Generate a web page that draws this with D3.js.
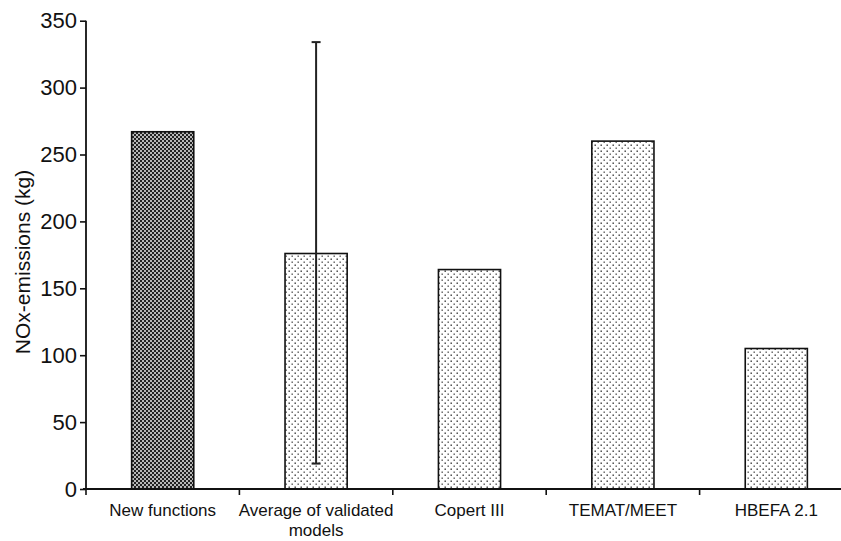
<!DOCTYPE html>
<html>
<head>
<meta charset="utf-8">
<script src="https://cdn.jsdelivr.net/npm/d3@7"></script>
<style>
  html, body { margin: 0; padding: 0; background: #fff; }
  svg { display: block; font-family: "Liberation Sans", Arial, Helvetica, sans-serif; }
</style>
</head>
<body>
<svg id="chart" width="841" height="541"></svg>
<script>
// ---- data ----
const categories = ["New functions", "Average of validated models", "Copert III", "TEMAT/MEET", "HBEFA 2.1"];
const labelLines = [["New functions"], ["Average of validated", "models"], ["Copert III"], ["TEMAT/MEET"], ["HBEFA 2.1"]];
const values = [267, 176, 164, 260, 105];
const patterns = ["check", "dots", "dots", "dots", "dots"];
const errLow = [null, 19, null, null, null];
const errHigh = [null, 334, null, null, null];
const yTicks = [0, 50, 100, 150, 200, 250, 300, 350];
const yTitle = "NOx-emissions (kg)";

// ---- layout ----
const svg = d3.select("#chart");
const x0 = 86, yBase = 489, yTop = 20.7;
const x = d3.scaleBand().domain(categories).range([x0, x0 + 153.4 * categories.length]).paddingInner(0).paddingOuter(0);
const y = d3.scaleLinear().domain([0, 350]).range([yBase, yTop]);
const barW = x.step() * 0.405;

// patterns
const defs = svg.append("defs");
const pc = defs.append("pattern").attr("id", "check").attr("patternUnits", "userSpaceOnUse")
  .attr("width", 4).attr("height", 4);
pc.append("rect").attr("width", 4).attr("height", 4).attr("fill", "#b8b8b8");
pc.append("rect").attr("x", 0).attr("y", 0).attr("width", 2).attr("height", 2).attr("fill", "#222");
pc.append("rect").attr("x", 2).attr("y", 2).attr("width", 2).attr("height", 2).attr("fill", "#222");

const pd = defs.append("pattern").attr("id", "dots").attr("patternUnits", "userSpaceOnUse")
  .attr("width", 6).attr("height", 6);
pd.append("rect").attr("width", 6).attr("height", 6).attr("fill", "#fff");
pd.append("rect").attr("x", 0.5).attr("y", 0.5).attr("width", 1.4).attr("height", 1.4).attr("fill", "#333");
pd.append("rect").attr("x", 3.5).attr("y", 3.5).attr("width", 1.4).attr("height", 1.4).attr("fill", "#555");

// bars
svg.append("g").selectAll("rect").data(categories).join("rect")
  .attr("x", (d) => x(d) + (x.step() - barW) / 2)
  .attr("y", (d, i) => y(values[i]))
  .attr("width", barW)
  .attr("height", (d, i) => y(0) - y(values[i]))
  .attr("fill", (d, i) => `url(#${patterns[i]})`)
  .attr("stroke", "#111")
  .attr("stroke-width", 1.6);

// error bars
categories.forEach((c, i) => {
  if (errLow[i] == null) return;
  const cx = x(c) + x.step() / 2;
  const g = svg.append("g").attr("stroke", "#222").attr("stroke-width", 2);
  g.append("line").attr("x1", cx).attr("x2", cx).attr("y1", y(errHigh[i])).attr("y2", y(errLow[i]));
  g.append("line").attr("x1", cx - 4.5).attr("x2", cx + 4.5).attr("y1", y(errHigh[i])).attr("y2", y(errHigh[i]));
  g.append("line").attr("x1", cx - 4.5).attr("x2", cx + 4.5).attr("y1", y(errLow[i])).attr("y2", y(errLow[i]));
});

// y axis
const yAxis = svg.append("g").attr("transform", `translate(${x0},0)`)
  .call(d3.axisLeft(y).tickValues(yTicks).tickSize(6).tickPadding(3).tickFormat(d3.format("d")));
yAxis.select(".domain").attr("d", `M0,${yTop}V${yBase}`).attr("stroke", "#111").attr("stroke-width", 1.8);
yAxis.selectAll(".tick line").attr("stroke", "#111").attr("stroke-width", 1.6);
yAxis.selectAll(".tick text").attr("font-size", 22).attr("fill", "#111").attr("font-family", "Liberation Sans, Arial, sans-serif");

// x axis
const xAxis = svg.append("g").attr("transform", `translate(0,${yBase})`);
xAxis.append("line").attr("x1", x0 - 3).attr("x2", x.range()[1]).attr("y1", 0).attr("y2", 0)
  .attr("stroke", "#111").attr("stroke-width", 1.8);
const bounds = categories.map((c) => x(c)).concat([x.range()[1]]);
xAxis.selectAll("line.bt").data(bounds).join("line").attr("class", "bt")
  .attr("x1", (d) => d).attr("x2", (d) => d).attr("y1", 0).attr("y2", 6)
  .attr("stroke", "#111").attr("stroke-width", 1.6);
categories.forEach((c, i) => {
  const cx = x(c) + x.step() / 2;
  const t = xAxis.append("text").attr("text-anchor", "middle").attr("font-size", 17).attr("fill", "#111");
  labelLines[i].forEach((ln, k) => {
    t.append("tspan").attr("x", cx).attr("y", 27 + k * 19.5).text(ln);
  });
});

// y title
svg.append("text")
  .attr("transform", `translate(30,262) rotate(-90)`)
  .attr("text-anchor", "middle")
  .attr("font-size", 21)
  .attr("fill", "#111")
  .text(yTitle);
</script>
</body>
</html>
